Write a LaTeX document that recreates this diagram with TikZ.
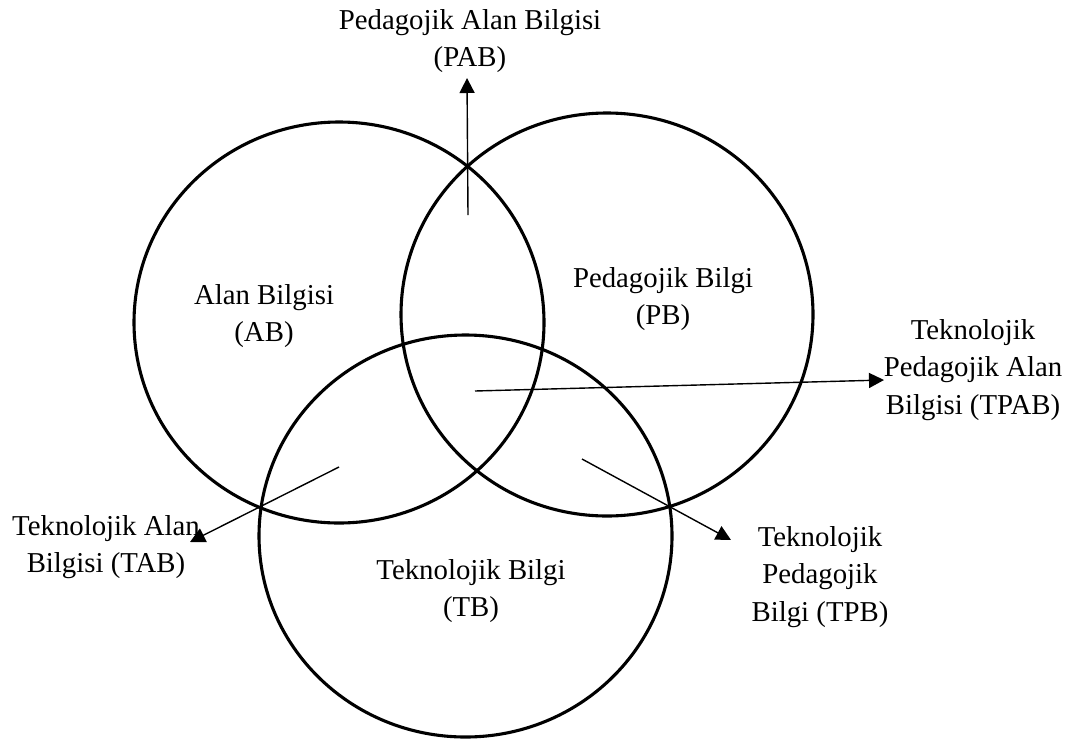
\documentclass[tikz,border=0pt]{standalone}
\usepackage{fontspec}
\setmainfont{Liberation Serif}
\usetikzlibrary{arrows.meta}
\begin{document}
\begin{tikzpicture}[x=1pt,y=-1pt,
  set/.style={line width=3.1pt},
  lbl/.style={align=center,anchor=north,inner sep=0pt,font=\fontsize{28.8}{37.5}\selectfont},
  conn/.style={line width=1.4pt,-{Triangle[length=15pt,width=15pt]}}]
\useasboundingbox (0,0) rectangle (1073,742);
% sets
\draw[set] (339,322.5) ellipse [x radius=205, y radius=200.5];
\draw[set] (607,314.5) ellipse [x radius=206, y radius=201.5];
\draw[set] (465.5,536) ellipse [x radius=206.5, y radius=201];
% labels
\node[lbl] (pab) at (470,9) {Pedagojik Alan Bilgisi\\(PAB)};
\node[lbl] (ab) at (264,284) {Alan Bilgisi\\(AB)};
\node[lbl] (pb) at (663,267) {Pedagojik Bilgi\\(PB)};
\node[lbl] (tb) at (471,559) {Teknolojik Bilgi\\(TB)};
\node[lbl] (tpab) at (973,319) {Teknolojik\\Pedagojik Alan\\Bilgisi (TPAB)};
\node[lbl] (tab) at (106,515) {Teknolojik Alan\\Bilgisi (TAB)};
\node[lbl] (tpb) at (820,526) {Teknolojik\\Pedagojik\\Bilgi (TPB)};
% connector ends
\coordinate (pabS) at (468,215);
\coordinate (pabE) at (467,78);
\coordinate (tpabS) at (475,391);
\coordinate (tpabE) at (884,380);
\coordinate (tabS) at (339,467);
\coordinate (tabE) at (190,542);
\coordinate (tpbS) at (582,459);
\coordinate (tpbE) at (731,540);
\draw[conn] (pabS) -- (pabE);
\draw[conn] (tpabS) -- (tpabE);
\draw[conn] (tabS) -- (tabE);
\draw[conn] (tpbS) -- (tpbE);
\end{tikzpicture}
\end{document}
